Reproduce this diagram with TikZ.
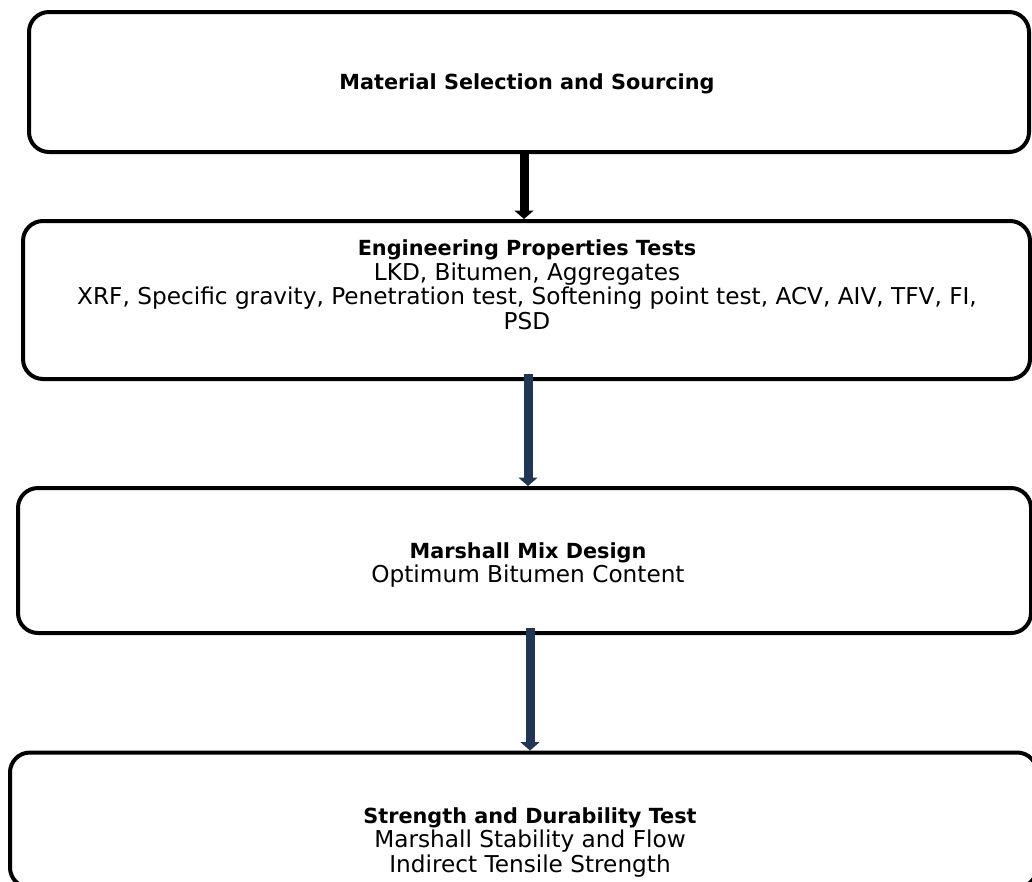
\documentclass[tikz,border=0pt]{standalone}
\usepackage{fontspec}
\setmainfont{DejaVu Sans}
\usetikzlibrary{arrows.meta}
\definecolor{navyarr}{HTML}{1F3654}
\newcommand{\stepttl}[1]{{\fontsize{20.8}{24.5}\selectfont\bfseries #1}}
\begin{document}
\begin{tikzpicture}[x=1pt, y=-1pt,
  font=\fontsize{23.2}{24.5}\selectfont,
  boxstep/.style={draw, line width=4pt, rounded corners=20pt,
                  minimum width=#1, inner sep=0pt},
  flowarr/.style={line width=9pt, draw=#1,
                  -{Triangle[width=19pt, length=8.5pt, fill=#1]}}
]
  \useasboundingbox (0,0) rectangle (1032,881);
  \clip (0,0) rectangle (1032,881);
  \node[boxstep=1000pt, minimum height=140pt] (mat) at (529,82)    {};
  \node[boxstep=1007pt, minimum height=158pt] (eng) at (526.5,300) {};
  \node[boxstep=1013pt, minimum height=145pt] (mix) at (524.5,560.5) {};
  \node[boxstep=1027pt, minimum height=135pt] (str) at (523.5,820) {};
  % textes des etapes
  \node[align=center] (matTxt) at (527,84)  {\stepttl{Material Selection and Sourcing}};
  \node[align=center] (engTxt) at (527,285)
        {\stepttl{Engineering Properties Tests}\\LKD, Bitumen, Aggregates\\
         XRF, Specific gravity, Penetration test, Softening point test, ACV, AIV, TFV, FI,\\PSD};
  \node[align=center] (mixTxt) at (528,565)
        {\stepttl{Marshall Mix Design}\\Optimum Bitumen Content};
  \node[align=center] (strTxt) at (530,842)
        {\stepttl{Strength and Durability Test}\\Marshall Stability and Flow\\Indirect Tensile Strength};
  \draw[flowarr=black]   ([xshift=-5pt]mat.south) -- ([xshift=-5pt]mat.south |- eng.north);
  \draw[flowarr=navyarr] ([shift={(1.5pt,7pt)}]eng.south) -- ([xshift=1.5pt]eng.south |- mix.north);
  \draw[flowarr=navyarr] ([shift={(5.5pt,7pt)}]mix.south) -- ([xshift=5.5pt]mix.south |- str.north);
\end{tikzpicture}
\end{document}
